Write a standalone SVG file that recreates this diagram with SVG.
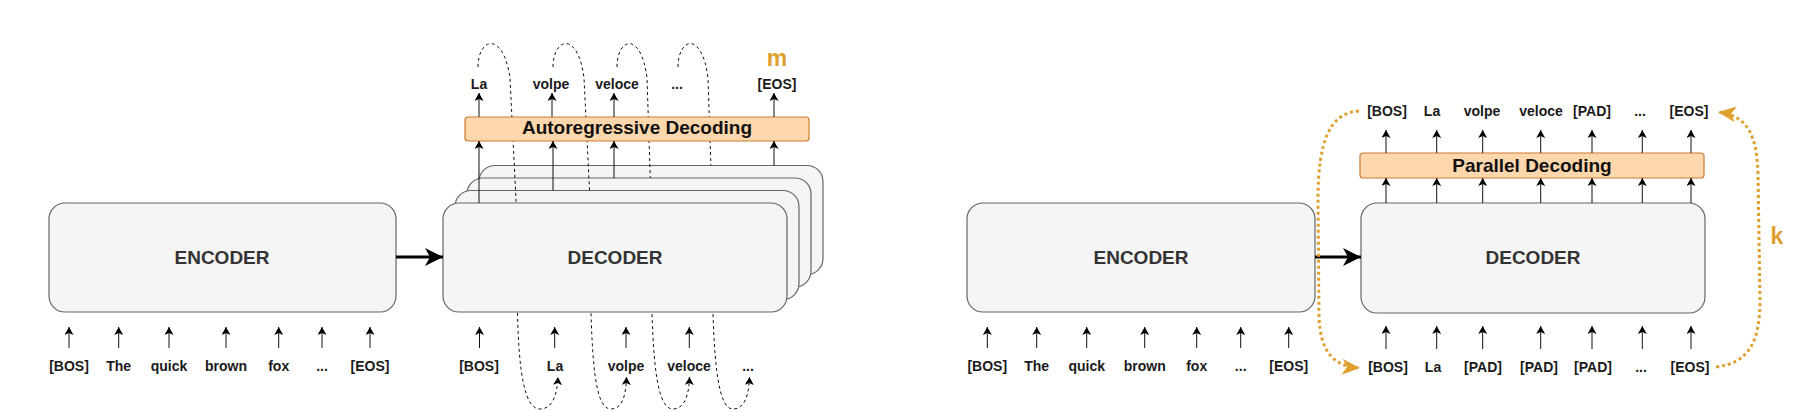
<svg xmlns="http://www.w3.org/2000/svg" width="1795" height="412" viewBox="0 0 1795 412">
<style>
.box{fill:#f5f5f5;stroke:#666666;stroke-width:1.2}
.ob{fill:#ffd7ad;stroke:#cc7a2e;stroke-width:1.2}
.big{font-family:"Liberation Sans",Arial,sans-serif;font-weight:bold;font-size:19px;fill:#333333;text-anchor:middle}
.obt{font-family:"Liberation Sans",Arial,sans-serif;font-weight:bold;font-size:19px;fill:#111111;text-anchor:middle}
.tok{font-family:"Liberation Sans",Arial,sans-serif;font-weight:bold;font-size:14px;fill:#1a1a1a;text-anchor:middle}
.or{font-family:"Liberation Sans",Arial,sans-serif;font-weight:bold;font-size:23px;fill:#e0a030;text-anchor:middle}
.ar{fill:none;stroke:#111111;stroke-width:1;marker-end:url(#a)}
.thick{fill:none;stroke:#000000;stroke-width:3;marker-end:url(#t)}
.loop{fill:none;stroke:#111111;stroke-width:1;stroke-dasharray:3 3;marker-end:url(#a)}
.dot{fill:none;stroke:#e0a030;stroke-width:3;stroke-dasharray:3 3;marker-end:url(#o)}
</style>
<defs>
<marker id="a" markerUnits="userSpaceOnUse" viewBox="0 0 8 9" refX="8" refY="4.5" markerWidth="8" markerHeight="9" orient="auto"><path d="M0,0 L8,4.5 L0,9 L2,4.5 Z" fill="#000"/></marker>
<marker id="t" markerUnits="userSpaceOnUse" viewBox="0 0 18 18" refX="18" refY="9" markerWidth="18" markerHeight="18" orient="auto"><path d="M0,0 L18,9 L0,18 L5,9 Z" fill="#000"/></marker>
<marker id="o" markerUnits="userSpaceOnUse" viewBox="0 0 18 16" refX="18" refY="8" markerWidth="18" markerHeight="16" orient="auto"><path d="M0,0 L18,8 L0,16 L5,8 Z" fill="#e0a030"/></marker>
</defs>

<!-- LEFT PANEL -->
<g id="encoder-left">
<rect class="box" x="49" y="203" width="347" height="109" rx="16"/>
<text class="big" x="222" y="263.5">ENCODER</text>
</g>

<g id="decoder-stack-left">
<path class="loop" d="M678,67 C678,38 702,30 708,78 L712,200 L713,313 C715,380 721,409 733,409 C744,409 749,396 749.5,377"/>
<rect class="box" x="479" y="165.5" width="344" height="109" rx="16"/>
<path class="loop" d="M617,67 C617,38 641,30 647,78 L651,200 L652,313 C654,380 660,409 673,409 C684,409 689,396 689.5,377"/>
<rect class="box" x="467" y="178" width="344" height="109" rx="16"/>
<path class="loop" d="M553,67 C553,38 578,30 584,78 L590,200 L591,313 C593,380 598,409 611,409 C622,409 626,396 626.5,377"/>
<rect class="box" x="455" y="190.5" width="344" height="109" rx="16"/>
<path class="loop" d="M478,67 C478,38 503,30 510,78 L516,200 L517.5,313 C519,380 526,409 540,409 C552,409 557,396 558,377"/>
<rect class="box" x="443" y="203" width="344" height="109" rx="16"/>
<text class="big" x="615" y="263.5">DECODER</text>
</g>

<g id="ar-decoding">
<rect class="ob" x="465" y="117" width="344" height="24" rx="3"/>
<text class="obt" x="637" y="134">Autoregressive Decoding</text>
</g>

<g id="connectors-left">
<path class="thick" d="M396,257 L443,257"/>
<path class="ar" d="M69,348 L69,327"/>
<path class="ar" d="M118.7,348 L118.7,327"/>
<path class="ar" d="M169,348 L169,327"/>
<path class="ar" d="M226,348 L226,327"/>
<path class="ar" d="M278.7,348 L278.7,327"/>
<path class="ar" d="M322,348 L322,327"/>
<path class="ar" d="M370,348 L370,327"/>
<path class="ar" d="M479,203 L479,141"/>
<path class="ar" d="M553,190.5 L553,141"/>
<path class="ar" d="M614,178 L614,141"/>
<path class="ar" d="M774,165.5 L774,141"/>
<path class="ar" d="M479,117 L479,93"/>
<path class="ar" d="M552,117 L552,93"/>
<path class="ar" d="M614,117 L614,93"/>
<path class="ar" d="M774,117 L774,93"/>
<path class="ar" d="M479.5,348 L479.5,327"/>
<path class="ar" d="M554.7,348 L554.7,327"/>
<path class="ar" d="M626,348 L626,327"/>
<path class="ar" d="M689.3,348 L689.3,327"/>
</g>

<g id="labels-left">
<text class="tok" x="69" y="371">[BOS]</text>
<text class="tok" x="118.7" y="371">The</text>
<text class="tok" x="169" y="371">quick</text>
<text class="tok" x="226" y="371">brown</text>
<text class="tok" x="278.7" y="371">fox</text>
<text class="tok" x="322" y="371">...</text>
<text class="tok" x="370" y="371">[EOS]</text>
<text class="tok" x="479" y="89">La</text>
<text class="tok" x="551" y="89">volpe</text>
<text class="tok" x="617" y="89">veloce</text>
<text class="tok" x="677" y="89">...</text>
<text class="tok" x="777" y="89">[EOS]</text>
<text class="or" x="777" y="66">m</text>
<text class="tok" x="479" y="371">[BOS]</text>
<text class="tok" x="555" y="371">La</text>
<text class="tok" x="626" y="371">volpe</text>
<text class="tok" x="689" y="371">veloce</text>
<text class="tok" x="748" y="371">...</text>
</g>

<!-- RIGHT PANEL -->
<g id="encoder-right">
<rect class="box" x="967" y="203" width="348" height="109" rx="16"/>
<text class="big" x="1141" y="263.5">ENCODER</text>
</g>

<g id="decoder-right">
<rect class="box" x="1361" y="203" width="344" height="110" rx="16"/>
<text class="big" x="1533" y="263.5">DECODER</text>
</g>

<g id="parallel-decoding">
<rect class="ob" x="1360" y="153" width="344" height="25" rx="3"/>
<text class="obt" x="1532" y="171.5">Parallel Decoding</text>
</g>

<g id="connectors-right">
<path class="thick" d="M1315,257 L1361,257"/>
<path class="ar" d="M987.3,348 L987.3,327"/>
<path class="ar" d="M1036.7,348 L1036.7,327"/>
<path class="ar" d="M1086.7,348 L1086.7,327"/>
<path class="ar" d="M1144.7,348 L1144.7,327"/>
<path class="ar" d="M1196.7,348 L1196.7,327"/>
<path class="ar" d="M1240.7,348 L1240.7,327"/>
<path class="ar" d="M1288.7,348 L1288.7,327"/>
<path class="ar" d="M1386,203 L1386,178"/>
<path class="ar" d="M1436.7,203 L1436.7,178"/>
<path class="ar" d="M1482.7,203 L1482.7,178"/>
<path class="ar" d="M1540.7,203 L1540.7,178"/>
<path class="ar" d="M1592,203 L1592,178"/>
<path class="ar" d="M1642.3,203 L1642.3,178"/>
<path class="ar" d="M1691,203 L1691,178"/>
<path class="ar" d="M1386,153 L1386,130"/>
<path class="ar" d="M1436.7,153 L1436.7,130"/>
<path class="ar" d="M1482.7,153 L1482.7,130"/>
<path class="ar" d="M1540.7,153 L1540.7,130"/>
<path class="ar" d="M1592,153 L1592,130"/>
<path class="ar" d="M1642.3,153 L1642.3,130"/>
<path class="ar" d="M1691,153 L1691,130"/>
<path class="ar" d="M1386,349 L1386,326"/>
<path class="ar" d="M1436.7,349 L1436.7,326"/>
<path class="ar" d="M1482.7,349 L1482.7,326"/>
<path class="ar" d="M1540.7,349 L1540.7,326"/>
<path class="ar" d="M1592,349 L1592,326"/>
<path class="ar" d="M1642.3,349 L1642.3,326"/>
<path class="ar" d="M1691,349 L1691,326"/>
<path class="dot" d="M1359,111 C1330,113 1318,140 1318,200 L1319,315 C1320,352 1333,366 1360,368"/>
<path class="dot" d="M1716,367 C1750,363 1760,340 1760,300 L1758,175 C1757,135 1748,116 1718,112"/>
</g>

<g id="labels-right">
<text class="tok" x="987.3" y="371">[BOS]</text>
<text class="tok" x="1036.7" y="371">The</text>
<text class="tok" x="1086.7" y="371">quick</text>
<text class="tok" x="1144.7" y="371">brown</text>
<text class="tok" x="1196.7" y="371">fox</text>
<text class="tok" x="1240.7" y="371">...</text>
<text class="tok" x="1288.7" y="371">[EOS]</text>
<text class="tok" x="1387" y="116">[BOS]</text>
<text class="tok" x="1432" y="116">La</text>
<text class="tok" x="1482" y="116">volpe</text>
<text class="tok" x="1541" y="116">veloce</text>
<text class="tok" x="1592" y="116">[PAD]</text>
<text class="tok" x="1640" y="116">...</text>
<text class="tok" x="1689" y="116">[EOS]</text>
<text class="tok" x="1388" y="372">[BOS]</text>
<text class="tok" x="1433" y="372">La</text>
<text class="tok" x="1483" y="372">[PAD]</text>
<text class="tok" x="1539" y="372">[PAD]</text>
<text class="tok" x="1593" y="372">[PAD]</text>
<text class="tok" x="1641" y="372">...</text>
<text class="tok" x="1690" y="372">[EOS]</text>
<text class="or" x="1777" y="244">k</text>
</g>
</svg>
